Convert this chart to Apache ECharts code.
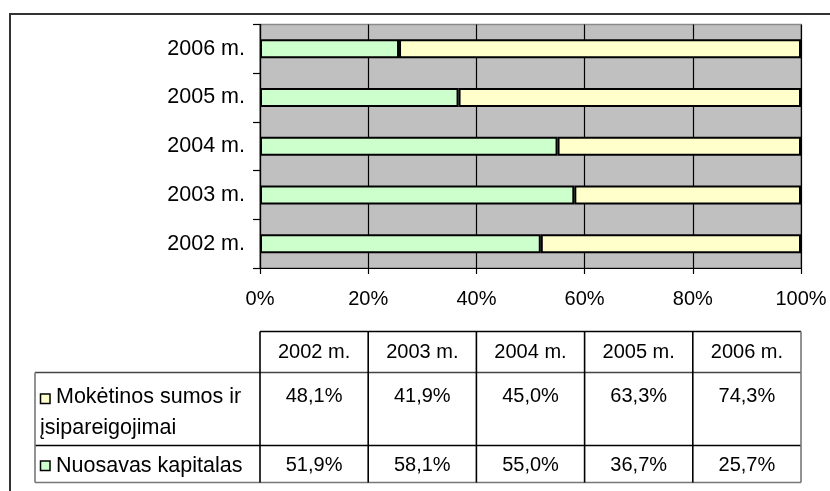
<!DOCTYPE html>
<html><head><meta charset="utf-8">
<script src="https://cdn.jsdelivr.net/npm/echarts@6/dist/echarts.min.js"></script>
<style>html,body{margin:0;padding:0;background:#fff}#c{width:830px;height:491px}</style>
</head><body><div id="c"></div>
<script>
const categories = ['2002 m.', '2003 m.', '2004 m.', '2005 m.', '2006 m.'];
const equity = [51.9, 58.1, 55.0, 36.7, 25.7];
const liabilities = [48.1, 41.9, 45.0, 63.3, 74.3];
const seriesNames = ['Mokėtinos sumos ir įsipareigojimai', 'Nuosavas kapitalas'];
const legendLines = [['Mokėtinos sumos ir', 'įsipareigojimai'], ['Nuosavas kapitalas']];
const xTicks = [0, 20, 40, 60, 80, 100];

const FONT = '"Liberation Sans", Arial, sans-serif';
const GREEN = '#ccffcc', YELLOW = '#ffffcc';
const fmt = v => v.toFixed(1).replace('.', ',') + '%';

const chart = echarts.init(document.getElementById('c'), null, {renderer: 'canvas'});
const option = {
  animation: false,
  backgroundColor: '#fff',
  grid: {left: 260, right: 29, top: 24.5, bottom: 223, show: true,
         backgroundColor: '#c0c0c0', borderColor: '#8a8a8a', borderWidth: 1.5},
  xAxis: {type: 'value', min: 0, max: 100, interval: 20,
    axisLine: {show: true, lineStyle: {color: '#000', width: 1.2}},
    axisTick: {show: true, length: 6, lineStyle: {color: '#000', width: 1.2}},
    splitLine: {show: true, lineStyle: {color: '#000', width: 1.2}},
    axisLabel: {formatter: '{value}%', color: '#000', fontSize: 20, fontFamily: FONT, margin: 21}},
  yAxis: {type: 'category', data: categories,
    axisLine: {show: true, lineStyle: {color: '#000', width: 1.2}},
    axisTick: {show: true, length: 7, lineStyle: {color: '#000', width: 1.2}},
    axisLabel: {color: '#000', fontSize: 21.5, fontFamily: FONT, margin: 15}},
  series: [
    {name: seriesNames[1], type: 'bar', stack: 't', data: equity, barWidth: 19,
     itemStyle: {color: GREEN, borderColor: '#000', borderWidth: 2}},
    {name: seriesNames[0], type: 'bar', stack: 't', data: liabilities, barWidth: 19,
     itemStyle: {color: YELLOW, borderColor: '#000', borderWidth: 2}}
  ]
};
chart.setOption(option);

// Data table under the chart, columns aligned to the x-axis scale
const colX = xTicks.map(v => chart.convertToPixel({xAxisIndex: 0}, v));
const legendLeft = 35;
const yTop = 331.5, yHead = 372.5, yRow1 = 445.5, yBot = 482.5;
const g = [];
const line = (x1, y1, x2, y2, c, w) => g.push({type: 'line', silent: true,
  shape: {x1, y1, x2, y2}, style: {stroke: c || '#000', lineWidth: w || 1.6}});
const text = (x, y, t, align, size) => g.push({type: 'text', silent: true, x, y,
  style: {text: t, fill: '#000', font: (size || 20) + 'px ' + FONT, align: align || 'center', verticalAlign: 'middle'}});

// frame
g.push({type: 'rect', silent: true, shape: {x: 10, y: 14, width: 830, height: 490},
  style: {fill: null, stroke: '#333', lineWidth: 2}});

// table borders
line(colX[0], yTop, colX[5], yTop);
line(legendLeft, yHead, colX[5], yHead, '#444');
line(legendLeft, yRow1, colX[5], yRow1);
line(legendLeft, yBot, colX[5], yBot, '#777');
line(legendLeft, yHead, legendLeft, yBot, '#777');
colX.forEach((x, i) => line(x, yTop, x, yBot, i === 5 ? '#777' : '#000'));

// header
categories.forEach((c, i) => text((colX[i] + colX[i + 1]) / 2, 352, c));
// values (row 1: liabilities, row 2: equity)
liabilities.forEach((v, i) => text((colX[i] + colX[i + 1]) / 2, 396, fmt(v)));
equity.forEach((v, i) => text((colX[i] + colX[i + 1]) / 2, 465, fmt(v)));
// legend keys and labels
[[YELLOW, 394], [GREEN, 461]].forEach(([c, y]) => g.push({type: 'rect', silent: true,
  shape: {x: 40.5, y: y, width: 9.5, height: 9.5}, style: {fill: c, stroke: '#000', lineWidth: 1.5}}));
text(56, 397, legendLines[0][0], 'left', 21.5);
text(40, 428, legendLines[0][1], 'left', 21.5);
text(56, 466, legendLines[1][0], 'left', 21.5);

chart.setOption({graphic: {elements: g}});
</script></body></html>
